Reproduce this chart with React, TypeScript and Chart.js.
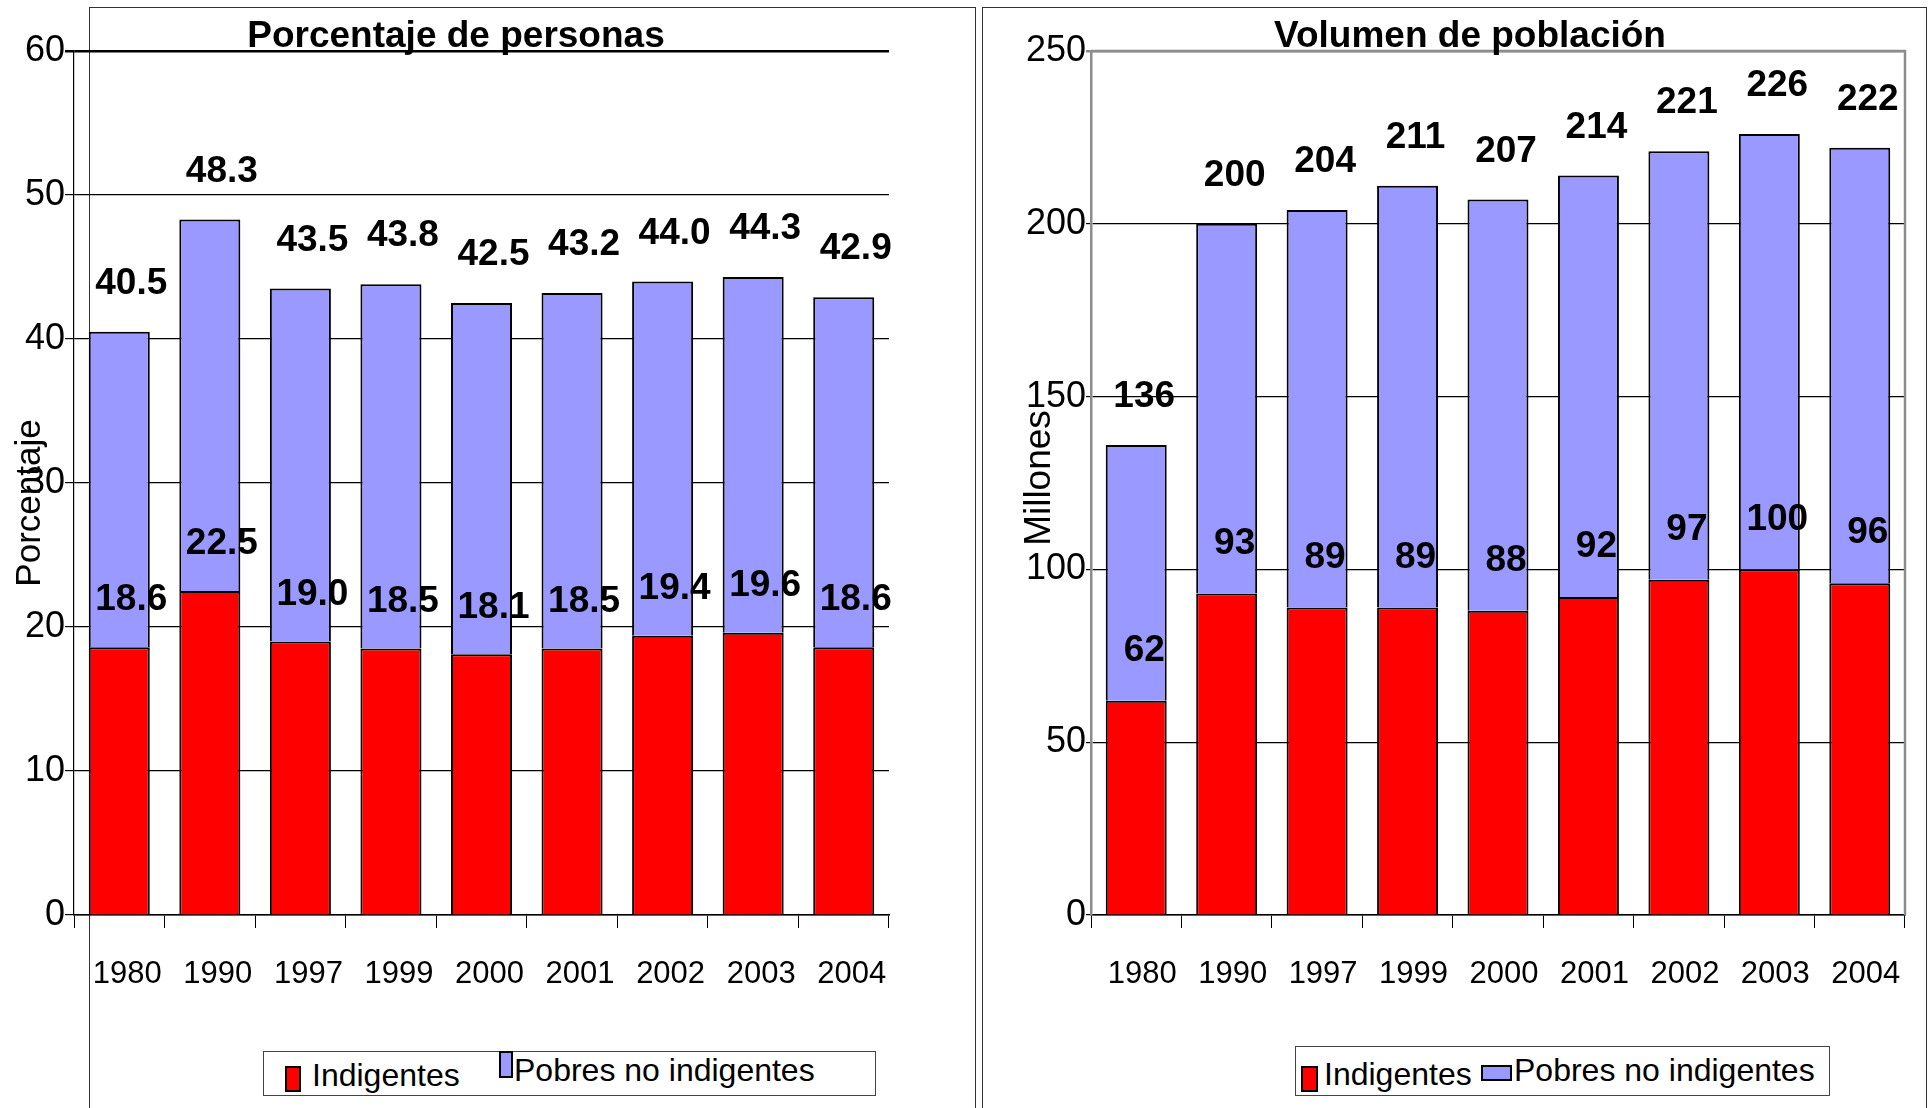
import React, { useEffect, useRef } from "react";
import { Chart, registerables } from "chart.js";

Chart.register(...registerables);

// ---------------- data ----------------
const years = ["1980", "1990", "1997", "1999", "2000", "2001", "2002", "2003", "2004"];
const seriesNames = ["Indigentes", "Pobres no indigentes"];

const indigentesPct = [18.6, 22.5, 19.0, 18.5, 18.1, 18.5, 19.4, 19.6, 18.6];
const pobresNoIndigentesPct = [21.9, 25.8, 24.5, 25.3, 24.4, 24.7, 24.6, 24.7, 24.3];

const indigentesMill = [62, 93, 89, 89, 88, 92, 97, 100, 96];
const pobresNoIndigentesMill = [74, 107, 115, 122, 119, 122, 124, 126, 126];

const pctTicks = [0, 10, 20, 30, 40, 50, 60];
const millTicks = [0, 50, 100, 150, 200, 250];

const panelTitles = ["Porcentaje de personas", "Volumen de población"];
const axisTitles = ["Porcentaje", "Millones"];

// ---------------- styles ----------------
const W = 1930;
const H = 1108;
const PLOT_TOP = 51;
const PLOT_BOTTOM = 915;
const RED = "#FF0000";
const BLUE = "#9999FF";
const GRAY = "#8c8c8c";
const FONT = "'Liberation Sans', Arial, Helvetica, sans-serif";

Chart.defaults.font.family = FONT;
Chart.defaults.color = "#000";

type Cfg = {
  left: number;
  width: number;
  yAxisWidth: number;
  padRight: number;
  indig: number[];
  pobres: number[];
  ticks: number[];
  decimals: number;
  title: string;
  titleX: number;
  axisTitle: string;
  axisTitleX: number;
  axisTitleY: number;
  axisTitleSize: number;
  labelDx: number;
  totalDy: number;
  indigDy: number;
  gray: boolean;
  tickLen: number;
  tickPad: number;
  xLabelOffset: number;
};

function PanelChart({ cfg }: { cfg: Cfg }) {
  const ref = useRef<HTMLCanvasElement | null>(null);
  useEffect(() => {
    const canvas = ref.current;
    if (!canvas) return;
    const topValue = cfg.ticks[cfg.ticks.length - 1];
    const overlay = {
      id: "overlay",
      afterDatasetsDraw(chart: any) {
        const ctx = chart.ctx;
        const ys = chart.scales.y;
        const meta0 = chart.getDatasetMeta(0);
        const area = chart.chartArea;
        ctx.save();
        if (cfg.gray) {
          ctx.strokeStyle = GRAY;
          ctx.lineWidth = 2.5;
          ctx.beginPath();
          ctx.moveTo(area.left, area.top);
          ctx.lineTo(area.right, area.top);
          ctx.lineTo(area.right, area.bottom);
          ctx.stroke();
        }
        ctx.fillStyle = "#000";
        ctx.font = `bold 37px ${FONT}`;
        ctx.textAlign = "center";
        ctx.textBaseline = "middle";
        meta0.data.forEach((bar: any, i: number) => {
          const total = cfg.indig[i] + cfg.pobres[i];
          const x = bar.x + cfg.labelDx;
          ctx.fillText(total.toFixed(cfg.decimals), x, ys.getPixelForValue(total) - cfg.totalDy);
          ctx.fillText(cfg.indig[i].toFixed(cfg.decimals), x, ys.getPixelForValue(cfg.indig[i]) - cfg.indigDy);
        });
        ctx.restore();
      },
      afterDraw(chart: any) {
        const ctx = chart.ctx;
        ctx.save();
        ctx.fillStyle = "#000";
        ctx.font = `bold 37px ${FONT}`;
        ctx.textAlign = "center";
        ctx.textBaseline = "alphabetic";
        ctx.fillText(cfg.title, cfg.titleX, 47);
        ctx.translate(cfg.axisTitleX, cfg.axisTitleY);
        ctx.rotate(-Math.PI / 2);
        ctx.font = `${cfg.axisTitleSize}px ${FONT}`;
        ctx.fillText(cfg.axisTitle, 0, 0);
        ctx.restore();
      },
    };
    const chart = new Chart(canvas, {
      type: "bar",
      data: {
        labels: years,
        datasets: [
          {
            label: seriesNames[0],
            data: cfg.indig,
            backgroundColor: RED,
            borderColor: "#000",
            borderWidth: 2,
            barPercentage: 0.674,
            categoryPercentage: 1,
          },
          {
            label: seriesNames[1],
            data: cfg.pobres,
            backgroundColor: BLUE,
            borderColor: "#000",
            borderWidth: 2,
            barPercentage: 0.674,
            categoryPercentage: 1,
          },
        ],
      },
      options: {
        animation: false,
        responsive: true,
        maintainAspectRatio: false,
        devicePixelRatio: 1,
        layout: { padding: { left: 0, right: cfg.padRight, top: PLOT_TOP, bottom: 0 } },
        plugins: {
          legend: { display: false },
          tooltip: { enabled: false },
          title: { display: false },
        },
        scales: {
          x: {
            stacked: true,
            offset: true,
            grid: {
              offset: true,
              drawOnChartArea: false,
              drawTicks: true,
              tickLength: 13,
              color: "#000",
              lineWidth: 1,
            },
            border: { display: true, color: "#000", width: 1.5 },
            ticks: {
              font: { size: 31 },
              color: "#000",
              padding: 28,
              labelOffset: cfg.xLabelOffset,
              maxRotation: 0,
              autoSkip: false,
            },
            afterFit: (s: any) => {
              s.height = H - PLOT_BOTTOM;
            },
          },
          y: {
            stacked: true,
            min: 0,
            max: topValue,
            afterBuildTicks: (s: any) => {
              s.ticks = cfg.ticks.map((v) => ({ value: v }));
            },
            ticks: { font: { size: 36 }, color: "#000", padding: cfg.tickPad },
            grid: {
              color: (c: any) => (cfg.gray && c.tick && c.tick.value === topValue ? GRAY : "#000"),
              lineWidth: (c: any) => (c.tick && c.tick.value === topValue ? 2.5 : 1.2),
              tickLength: cfg.tickLen,
              drawTicks: true,
            },
            border: { display: true, color: cfg.gray ? GRAY : "#000", width: cfg.gray ? 2.5 : 1.2 },
            afterFit: (s: any) => {
              s.width = cfg.yAxisWidth;
            },
          },
        },
      } as any,
      plugins: [overlay],
    });
    return () => chart.destroy();
  }, []);
  return (
    <div style={{ position: "absolute", left: cfg.left, top: 0, width: cfg.width, height: H }}>
      <canvas ref={ref} />
    </div>
  );
}

const leftCfg: Cfg = {
  left: 0,
  width: 976,
  yAxisWidth: 74,
  padRight: 976 - 889,
  indig: indigentesPct,
  pobres: pobresNoIndigentesPct,
  ticks: pctTicks,
  decimals: 1,
  title: panelTitles[0],
  titleX: 456,
  axisTitle: axisTitles[0],
  axisTitleX: 40,
  axisTitleY: 503,
  axisTitleSize: 35,
  labelDx: 12,
  totalDy: 48,
  indigDy: 47,
  gray: false,
  tickLen: 9,
  tickPad: 0,
  xLabelOffset: 8,
};

const rightCfg: Cfg = {
  left: 980,
  width: 950,
  yAxisWidth: 1091 - 980,
  padRight: 1930 - 1905,
  indig: indigentesMill,
  pobres: pobresNoIndigentesMill,
  ticks: millTicks,
  decimals: 0,
  title: panelTitles[1],
  titleX: 1470 - 980,
  axisTitle: axisTitles[1],
  axisTitleX: 1050 - 980,
  axisTitleY: 478,
  axisTitleSize: 37,
  labelDx: 8,
  totalDy: 48,
  indigDy: 50,
  gray: true,
  tickLen: 5,
  tickPad: 0,
  xLabelOffset: 6,
};

const legendText: React.CSSProperties = {
  position: "absolute",
  fontFamily: FONT,
  fontSize: 32,
  lineHeight: "32px",
  color: "#000",
  whiteSpace: "nowrap",
};

function swatch(left: number, top: number, w: number, h: number, color: string): React.CSSProperties {
  return {
    position: "absolute",
    left,
    top,
    width: w - 4,
    height: h - 4,
    background: color,
    border: "2px solid #000",
  };
}

function legendBox(left: number, top: number, w: number, h: number): React.CSSProperties {
  return {
    position: "absolute",
    left,
    top,
    width: w - 2,
    height: h - 2,
    border: "1px solid #444",
    background: "#fff",
  };
}

export default function App() {
  return (
    <div
      style={{
        position: "absolute",
        left: 0,
        top: 0,
        width: W,
        height: H,
        overflow: "hidden",
        background: "#fff",
      }}
    >
      {/* panel frames */}
      <div
        style={{
          position: "absolute",
          left: 89,
          top: 7,
          width: 976 - 89,
          height: H + 20,
          borderLeft: "1.5px solid #333",
          borderTop: "1.5px solid #333",
          borderRight: "1.5px solid #333",
          boxSizing: "border-box",
        }}
      />
      <div
        style={{
          position: "absolute",
          left: 982,
          top: 7,
          width: 1927 - 982,
          height: H + 20,
          borderLeft: "1.5px solid #333",
          borderTop: "1.5px solid #333",
          borderRight: "1.5px solid #333",
          boxSizing: "border-box",
        }}
      />

      {/* legends */}
      <div style={legendBox(263, 1051, 613, 45)} />
      <div style={swatch(285, 1066, 16, 26, RED)} />
      <div style={{ ...legendText, left: 312, top: 1059 }}>{seriesNames[0]}</div>
      <div style={swatch(499, 1051, 14, 27, BLUE)} />
      <div style={{ ...legendText, left: 514, top: 1054 }}>{seriesNames[1]}</div>

      <div style={legendBox(1295, 1046, 535, 50)} />
      <div style={swatch(1301, 1066, 17, 26, RED)} />
      <div style={{ ...legendText, left: 1324, top: 1058 }}>{seriesNames[0]}</div>
      <div style={swatch(1481, 1065, 31, 16, BLUE)} />
      <div style={{ ...legendText, left: 1514, top: 1054 }}>{seriesNames[1]}</div>

      <PanelChart cfg={leftCfg} />
      <PanelChart cfg={rightCfg} />
    </div>
  );
}
